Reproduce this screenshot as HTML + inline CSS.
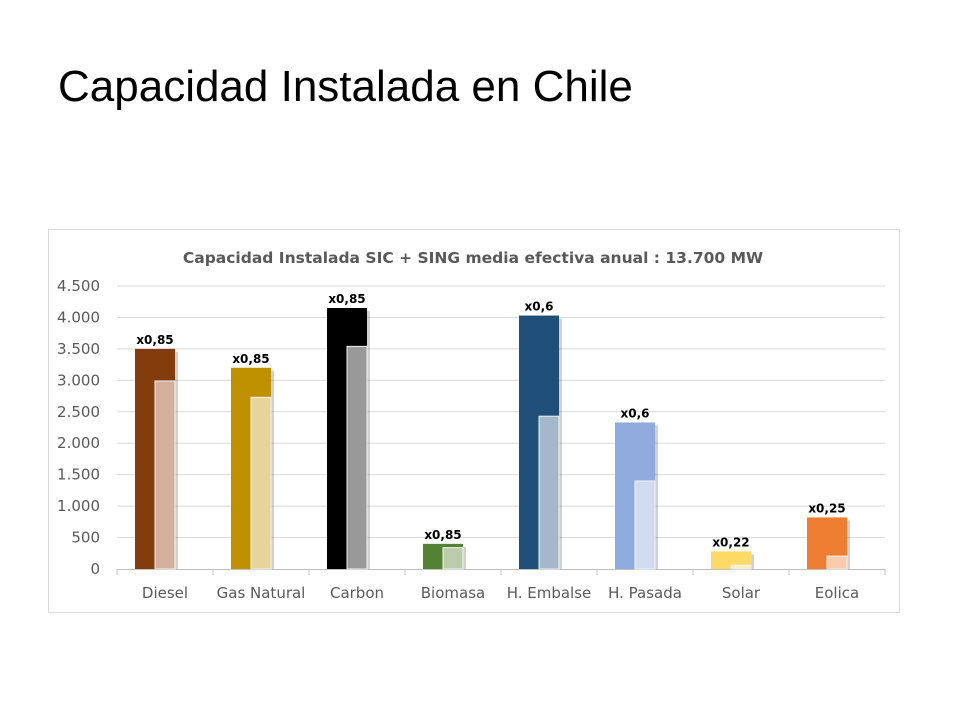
<!DOCTYPE html>
<html><head><meta charset="utf-8"><style>
body{margin:0;width:960px;height:720px;background:#fff;font-family:"Liberation Sans",sans-serif;overflow:hidden}
#title{position:absolute;left:58px;top:62px;font-size:44px;color:#000}
</style></head><body>
<div id="title">Capacidad Instalada en Chile</div>
<svg id="chart" width="960" height="720" style="position:absolute;left:0;top:0"></svg>
<script>
const categories=["Diesel","Gas Natural","Carbon","Biomasa","H. Embalse","H. Pasada","Solar","Eolica"];
const installed=[3500,3200,4150,400,4030,2330,280,820];
const effective=[2990,2730,3540,340,2430,1400,60,205];
const factors=["x0,85","x0,85","x0,85","x0,85","x0,6","x0,6","x0,22","x0,25"];
const yTicks=[0,500,1000,1500,2000,2500,3000,3500,4000,4500];
const yTickLabels=["0","500","1.000","1.500","2.000","2.500","3.000","3.500","4.000","4.500"];
const darkColors=["#843c0c","#bf9000","#000000","#548235","#1f4e79","#8faadc","#ffd966","#ed7d31"];
const lightColors=["#d5b09c","#e8d49a","#999999","#bcccaa","#a5b8cb","#d2dcf1","#fff0c2","#f8cbad"];
const NS="http://www.w3.org/2000/svg";
const svg=document.getElementById('chart');
const x0=117,x1=885,yBase=569,yTop=286,yMax=4500;
const bw=(x1-x0)/categories.length;
const y=v=>yBase-(v/yMax)*(yBase-yTop);
function mk(t,a,p){const e=document.createElementNS(NS,t);for(const k in a)e.setAttribute(k,a[k]);(p||svg).appendChild(e);return e;}
const frame=mk('rect',{x:48.5,y:229.5,width:851,height:383,fill:'#fff',stroke:'#d9d9d9'});


const ct=mk('text',{x:473,y:263,'text-anchor':'middle','font-size':15.5,'font-weight':'bold',fill:'#595959','font-family':'DejaVu Sans, sans-serif'});
ct.textContent="Capacidad Instalada SIC + SING  media efectiva anual : 13.700 MW";


yTicks.forEach((v,i)=>{
  if(i>0){const g=mk('line',{x1:x0,x2:x1,y1:y(v),y2:y(v),stroke:'#d9d9d9'});
  
  }
  const t=mk('text',{x:100,y:y(v)+5,'text-anchor':'end','font-size':15,fill:'#595959','font-family':'DejaVu Sans, sans-serif'});
  t.textContent=yTickLabels[i];
  
  
});
const ax=mk('line',{x1:x0,x2:x1,y1:yBase+0.5,y2:yBase+0.5,stroke:'#bfbfbf'});


for(let i=0;i<=categories.length;i++){
  const tk=mk('line',{x1:x0+i*bw,x2:x0+i*bw,y1:yBase,y2:yBase+6,stroke:'#bfbfbf'});
  
  
}
categories.forEach((c,i)=>{
  const cx=x0+bw*(i+0.5);
  const sh=mk('rect',{x:cx-27,y:y(installed[i])+3,width:40,height:yBase-y(installed[i])-3,fill:'#000',opacity:0.18});
  
  
  const d=mk('rect',{x:cx-30,y:y(installed[i]),width:40,height:yBase-y(installed[i]),fill:darkColors[i]});
  
  
  const l=mk('rect',{x:cx-10,y:y(effective[i]),width:20,height:yBase-y(effective[i]),fill:lightColors[i],stroke:'#f2f2f2','stroke-width':1});
  
  
  const f=mk('text',{x:cx-10,y:y(installed[i])-5,'text-anchor':'middle','font-size':12,'font-weight':'bold',fill:'#000','font-family':'DejaVu Sans, sans-serif'});
  f.textContent=factors[i];
  
  
  const t=mk('text',{x:cx,y:598,'text-anchor':'middle','font-size':15,fill:'#595959','font-family':'DejaVu Sans, sans-serif'});
  t.textContent=c;
  
  
});
</script>
</body></html>
